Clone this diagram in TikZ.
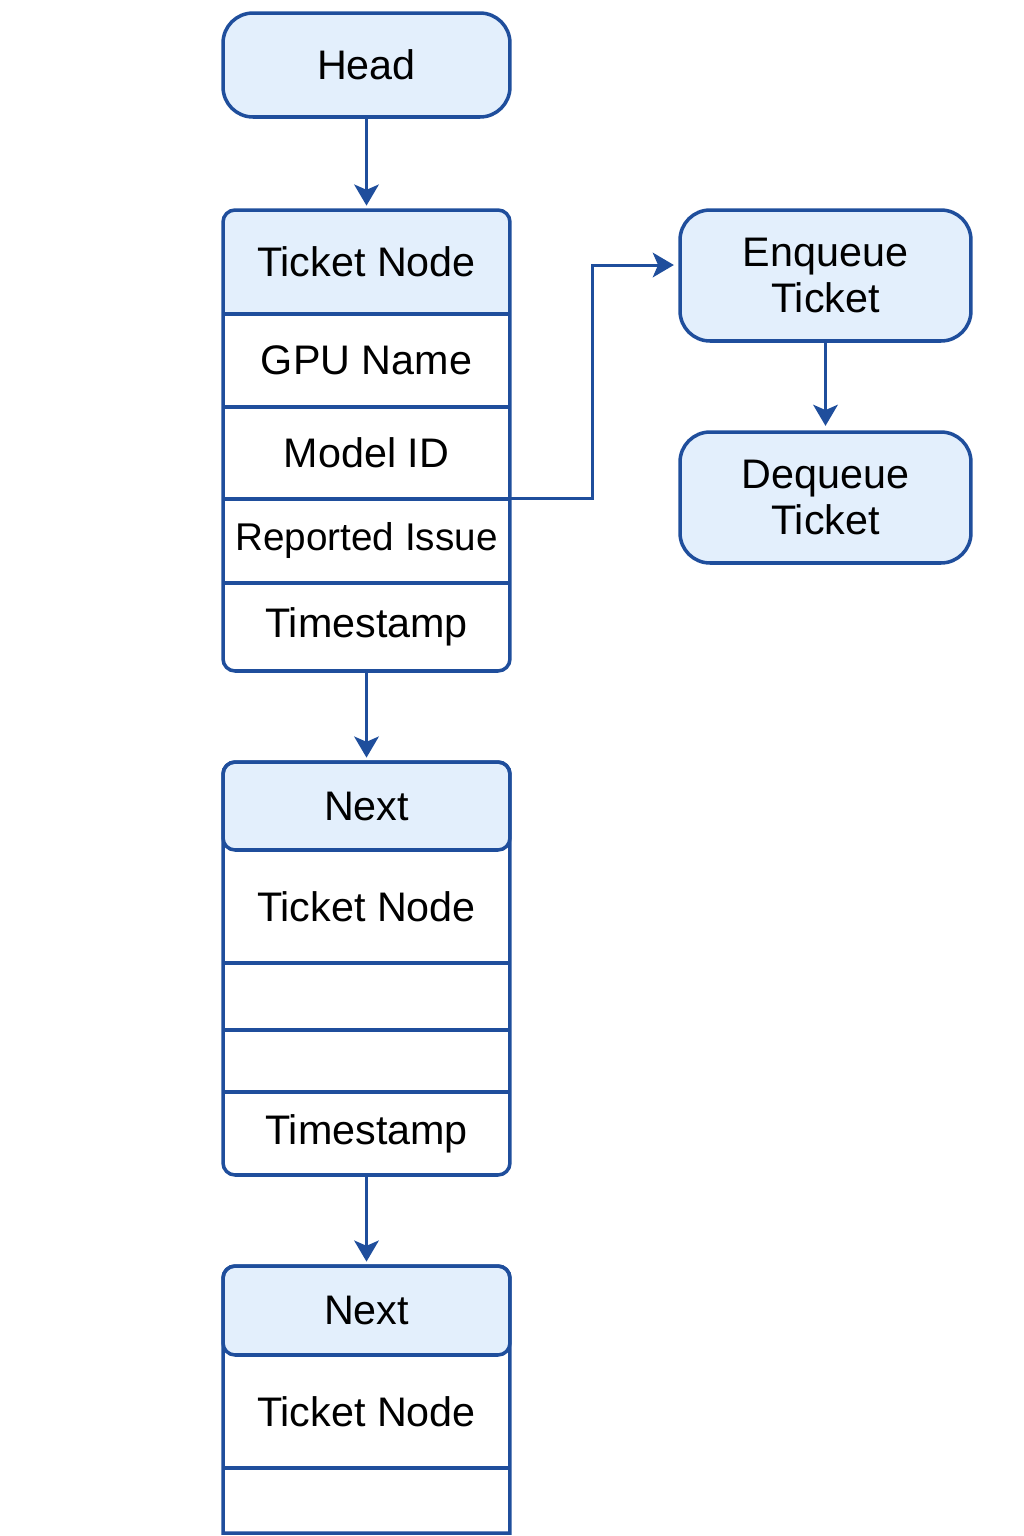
\documentclass[tikz,border=0pt]{standalone}
\usepackage{fontspec}
\setmainfont{Liberation Sans}
\usetikzlibrary{arrows.meta}
\definecolor{qline}{RGB}{31,78,156}
\definecolor{qfill}{RGB}{227,239,252}
\tikzset{
    txt/.style={font=\fontsize{23.5}{26}\selectfont, align=center},
    field/.style={txt, anchor=north, minimum width=5.74cm, inner sep=0pt, outer sep=0pt},
    opbox/.style={txt, draw=qline, fill=qfill, line width=2pt, rounded corners=0.6cm,
        minimum width=5.82cm, minimum height=2.62cm},
    arr/.style={draw=qline, line width=1.7pt, -{Stealth[length=12pt,width=14pt,inset=3pt]}, shorten >=2.5pt},
    frame/.style={draw=qline, line width=2pt}
}

\begin{document}
\begin{tikzpicture}[x=0.02cm, y=-0.02cm]
\useasboundingbox (0,0) rectangle (1024,1536);

\node[opbox, minimum width=5.74cm, minimum height=2.08cm] (head) at (366.5,65) {Head};

\node[field, minimum height=2.08cm] (t1) at (366.5,210) {Ticket Node};
\node[field, minimum height=1.86cm] (gpu) at (366.5,314) {GPU Name};
\node[field, minimum height=1.84cm] (model) at (366.5,407) {Model ID};
\node[field, minimum height=1.68cm, font=\fontsize{22}{26}\selectfont] (issue) at (366.5,499) {Reported Issue};
\node[field, minimum height=1.76cm] (ts1) at (366.5,583) {Timestamp};
\fill[qfill] (t1.south west) [rounded corners=0.24cm] -- (t1.north west) -- (t1.north east) [sharp corners] -- (t1.south east) -- cycle;
\foreach \f in {gpu, model, issue, ts1}
  \draw[frame] (\f.north west) -- (\f.north east);
\draw[frame, rounded corners=0.24cm] (t1.north west) rectangle (ts1.south east);
\node[field, minimum height=2.08cm] at (t1.north) {Ticket Node};

\node[field, minimum height=1.76cm, draw=qline, fill=qfill, line width=2pt, rounded corners=0.24cm] (n2) at (366.5,762) {Next};
\node[field, minimum height=2.26cm] (t2) at (366.5,850) {Ticket Node};
\node[field, minimum height=1.34cm] (e2a) at (366.5,963) {};
\node[field, minimum height=1.24cm] (e2b) at (366.5,1030) {};
\node[field, minimum height=1.66cm] (ts2) at (366.5,1092) {Timestamp};
\foreach \f in {e2a, e2b, ts2}
  \draw[frame] (\f.north west) -- (\f.north east);
\draw[frame, rounded corners=0.24cm] (n2.north west) rectangle (ts2.south east);

\node[field, minimum height=1.78cm, draw=qline, fill=qfill, line width=2pt, rounded corners=0.24cm] (n3) at (366.5,1266) {Next};
\node[field, minimum height=2.26cm] (t3) at (366.5,1355) {Ticket Node};
\node[field, minimum height=1.3cm] (e3) at (366.5,1468) {};
\draw[frame] (e3.north west) -- (e3.north east);
\draw[frame] (e3.south west) [rounded corners=0.24cm] -- (n3.north west) -- (n3.north east) [sharp corners] -- (e3.south east) -- cycle;

\node[opbox] (enq) at (825.5,275.5) {Enqueue\\Ticket};
\node[opbox] (deq) at (825.5,497.5) {Dequeue\\Ticket};

\draw[arr] (head) -- (t1);
\draw[arr] (ts1) -- (n2);
\draw[arr] (ts2) -- (n3);
\draw[arr] (enq) -- (deq);
\draw[arr] (model.south east) -- ++(83,0) |- ([yshift=0.21cm]enq.west);
\end{tikzpicture}
\end{document}
